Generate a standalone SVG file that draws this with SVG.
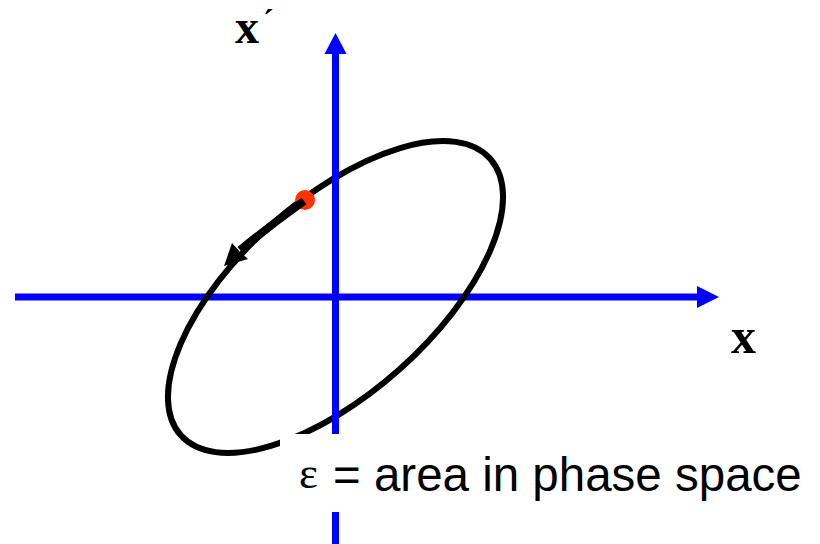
<svg xmlns="http://www.w3.org/2000/svg" width="820" height="544" viewBox="0 0 820 544">
  <style>
    .axis { stroke: #0000FF; stroke-width: 7; fill: none; }
    .axhead { fill: #0000FF; }
    .orbit { stroke: #000000; stroke-width: 6; fill: none; }
    .lbl { font-family: "Liberation Serif", "Times New Roman", serif; font-weight: bold; fill: #000000; }
    .cap { font-family: "Liberation Sans", Arial, sans-serif; fill: #000000; }
  </style>
  <rect width="820" height="544" fill="#FFFFFF"/>
  <g id="connectors">
    <g id="x-axis">
      <line class="axis" x1="15" y1="297" x2="699" y2="297"/>
      <polygon class="axhead" points="697,286 719,297 697,308"/>
    </g>
    <g id="ellipse">
      <ellipse class="orbit" cx="335.5" cy="297" rx="207.5" ry="96.6" transform="rotate(-41.8 335.5 297)"/>
    </g>
    <g id="xprime-axis">
      <line class="axis" x1="335.5" y1="52" x2="335.5" y2="544"/>
      <polygon class="axhead" points="324.5,54 335.5,33 346.5,54"/>
    </g>
  </g>
  <g id="particle">
    <circle cx="305" cy="200" r="10" fill="#FF3300"/>
  </g>
  <g id="motion-arrow">
    <path d="M304,201 Q272,224 240,250" stroke="#000000" stroke-width="8" fill="none"/>
    <polygon points="224,266 232,243 240,252 248,259" fill="#000000"/>
  </g>
  <g id="caption">
    <rect x="280" y="434" width="540" height="78" fill="#FFFFFF"/>
    <text class="lbl" x="299" y="488" style="font-weight:normal" font-size="45">ε</text>
    <text class="cap" x="333" y="491" font-size="47.5">= area in phase space</text>
  </g>
  <g id="label-xprime">
    <text class="lbl" x="235" y="43" font-size="48">x</text>
    <text class="lbl" x="263" y="31" font-size="32">´</text>
  </g>
  <g id="label-x">
    <text class="lbl" x="731" y="353" font-size="50">x</text>
  </g>
</svg>
